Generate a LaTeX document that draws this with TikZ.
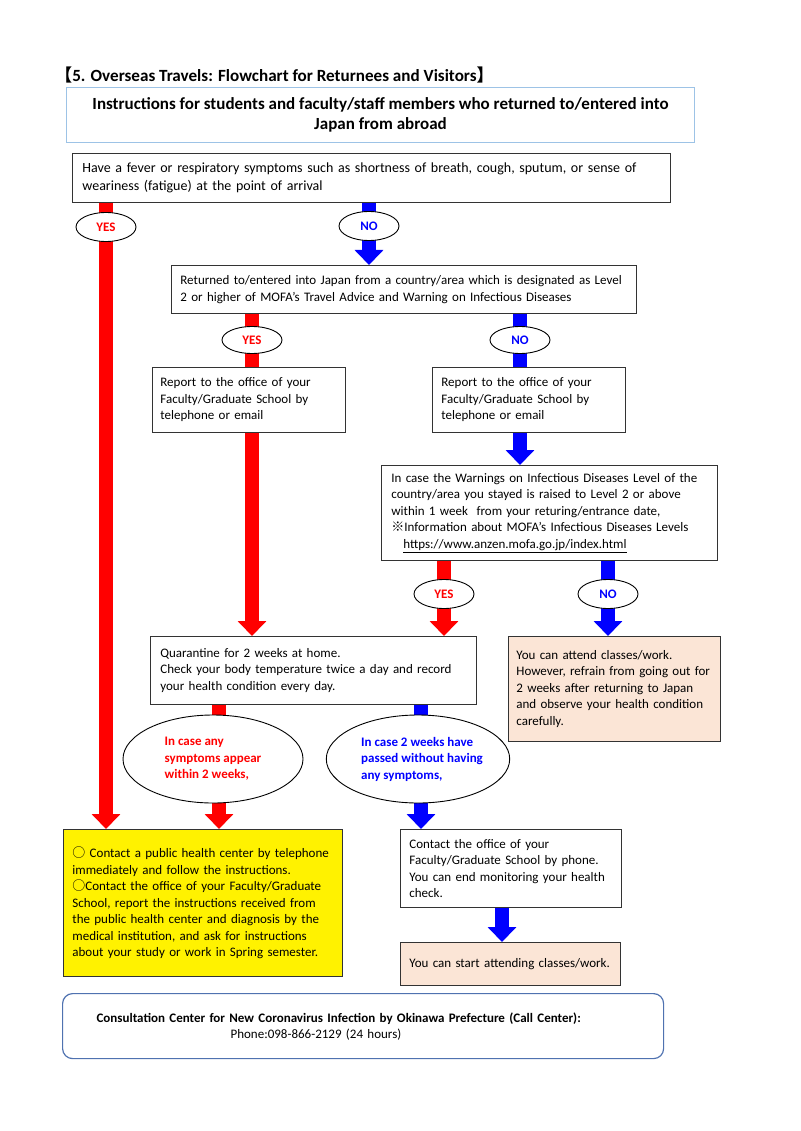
\documentclass[tikz,border=0pt]{standalone}
\usepackage{fontspec}
\setmainfont{Carlito}
\newfontfamily\cjk{Noto Sans CJK JP}
\usetikzlibrary{arrows.meta,shapes.geometric}
\definecolor{hdrblue}{HTML}{9DC3E6}
\definecolor{peach}{HTML}{FBE5D6}
\definecolor{frameblue}{HTML}{4F72B0}
\definecolor{myred}{HTML}{FF0000}
\definecolor{myblue}{HTML}{0000FF}
\newcommand\bodyfs{\fontsize{13}{16.5}\selectfont}
\pgfdeclarelayer{bg}\pgfsetlayers{bg,main}
\tikzset{
  box/.style={draw=black!80, line width=0.8pt, fill=white, anchor=north west,
    align=left, inner ysep=0pt, font=\bodyfs},
  yn/.style={ellipse, draw=black, line width=0.9pt, fill=white, inner sep=0pt,
    minimum width=60pt, minimum height=29pt, font=\bfseries\fontsize{13}{15}\selectfont},
  bigell/.style={ellipse, draw=black, line width=0.9pt, fill=white, inner sep=0pt,
    minimum width=180pt, minimum height=88pt, align=left,
    font=\bfseries\fontsize{13}{16.5}\selectfont},
  redarr/.style={draw=myred, line width=14pt, -{Triangle[width=28pt,length=15pt]}},
  bluearr/.style={draw=myblue, line width=14pt, -{Triangle[width=28pt,length=15pt]}},
  redbar/.style={draw=myred, line width=14pt},
  bluebar/.style={draw=myblue, line width=14pt},
}
\begin{document}
\begin{tikzpicture}[x=1pt,y=-1pt]
\useasboundingbox (0,0) rectangle (800,1131);

\node[anchor=west, inner sep=0pt, font=\bfseries\fontsize{17.1}{20}\selectfont] (title) at (55,75)
  {{\cjk 【}5. Overseas Travels: Flowchart for Returnees and Visitors{\cjk 】}};

\node[draw=hdrblue, line width=1pt, anchor=north west, minimum width=628pt, minimum height=55pt,
  align=center, font=\bfseries\fontsize{17}{20.5}\selectfont] (hdr) at (66,87)
  {Instructions for students and faculty/staff members who returned to/entered into\\Japan from abroad};

\node[box, inner xsep=10pt, text width=578pt, minimum height=49pt,
  font=\fontsize{14}{18}\selectfont] (b1) at (72,153)
  {Have a fever or respiratory symptoms such as shortness of breath, cough, sputum, or sense of\\weariness (fatigue) at the point of arrival};

\node[yn, text=myred] (yes1) at (106,227) {YES};
\node[yn, text=myblue] (no1) at (369,226) {NO};

\node[box, inner xsep=9pt, text width=447pt, minimum height=48pt] (b2) at (171,265)
  {Returned to/entered into Japan from a country/area which is designated as Level\\2 or higher of MOFA’s Travel Advice and Warning on Infectious Diseases};

\node[yn, minimum height=27pt, text=myred] (yes2) at (252,340) {YES};
\node[yn, minimum height=27pt, text=myblue] (no2) at (520,340) {NO};

\node[box, inner xsep=8pt, text width=177pt, minimum height=65pt] (b3) at (152,367)
  {Report to the office of your\\Faculty/Graduate School by\\telephone or email};
\node[box, inner xsep=9pt, text width=175pt, minimum height=65pt] (b4) at (432,367)
  {Report to the office of your\\Faculty/Graduate School by\\telephone or email};

\node[box, inner xsep=10pt, text width=316pt, minimum height=95pt] (b5) at (381,465)
  {In case the Warnings on Infectious Diseases Level of the\\country/area you stayed is raised to Level 2 or above\\within 1 week\ \ from your returing/entrance date,\\{\cjk ※}Information about MOFA’s Infectious Diseases Levels\\\hspace*{12pt}\underline{https://www.anzen.mofa.go.jp/index.html}};

\node[yn, text=myred] (yes3) at (444,594) {YES};
\node[yn, text=myblue] (no3) at (608,594) {NO};

\node[box, inner xsep=10pt, text width=306pt, minimum height=68pt] (q) at (150,636)
  {Quarantine for 2 weeks at home.\\Check your body temperature twice a day and record\\your health condition every day.};

\node[box, fill=peach, inner xsep=8pt, text width=196pt, minimum height=105pt] (att) at (508,636)
  {You can attend classes/work.\\However, refrain from going out for\\2 weeks after returning to Japan\\and observe your health condition\\carefully.};

\node[bigell, text=myred] (e1) at (213,759)
  {In case any\\symptoms appear\hspace*{14pt}\\within 2 weeks,};
\node[bigell, minimum width=178pt, text=myblue] (e2) at (418,759)
  {\hspace*{8pt}In case 2 weeks have\\\hspace*{8pt}passed without having\\\hspace*{8pt}any symptoms,};

\node[box, fill=yellow, inner xsep=9pt, text width=261pt, minimum height=147pt] (yel) at (63,829)
  {{\cjk ○} Contact a public health center by telephone\\immediately and follow the instructions.\\{\cjk ○}Contact the office of your Faculty/Graduate\\School, report the instructions received from\\the public health center and diagnosis by the\\medical institution, and ask for instructions\\about your study or work in Spring semester.};

\node[box, inner xsep=9pt, text width=203pt, minimum height=78pt] (c) at (400,829)
  {Contact the office of your\\Faculty/Graduate School by phone.\\You can end monitoring your health\\check.};

\node[box, fill=peach, inner xsep=9pt, text width=202pt, minimum height=43pt] (st) at (400,942)
  {You can start attending classes/work.};

\node[draw=frameblue, line width=1.2pt, rounded corners=10pt, anchor=north west,
  inner xsep=34pt, inner ysep=0pt, text width=533pt, minimum height=65pt, align=left,
  font=\fontsize{13}{16}\selectfont] (foot) at (62,993)
  {\textbf{Consultation Center for New Coronavirus Infection by Okinawa Prefecture (Call Center):}\\\hspace*{134pt}Phone:098-866-2129 (24 hours)};

\coordinate (r4) at (219,0);
\coordinate (b6) at (421,0);
\coordinate (b7) at (502,0);

\begin{pgfonlayer}{bg}
  \draw[redarr] (yes1.center |- b1.south) -- (yes1.center |- yel.north);
  \draw[bluearr] (no1.center |- b1.south) -- (no1.center |- b2.north);
  \draw[redbar] (yes2.center |- b2.south) -- (yes2.center |- b3.north);
  \draw[bluebar] (no2.center |- b2.south) -- (no2.center |- b4.north);
  \draw[redarr] (yes2.center |- b3.south) -- (yes2.center |- q.north);
  \draw[bluearr] (no2.center |- b4.south) -- (no2.center |- b5.north);
  \draw[redarr] (yes3.center |- b5.south) -- (yes3.center |- q.north);
  \draw[bluearr] (no3.center |- b5.south) -- (no3.center |- att.north);
  \draw[redarr] (r4 |- q.south) -- (r4 |- yel.north);
  \draw[bluearr] (b6 |- q.south) -- (b6 |- c.north);
  \draw[bluearr] (b7 |- c.south) -- (b7 |- st.north);
\end{pgfonlayer}
\end{tikzpicture}
\end{document}
